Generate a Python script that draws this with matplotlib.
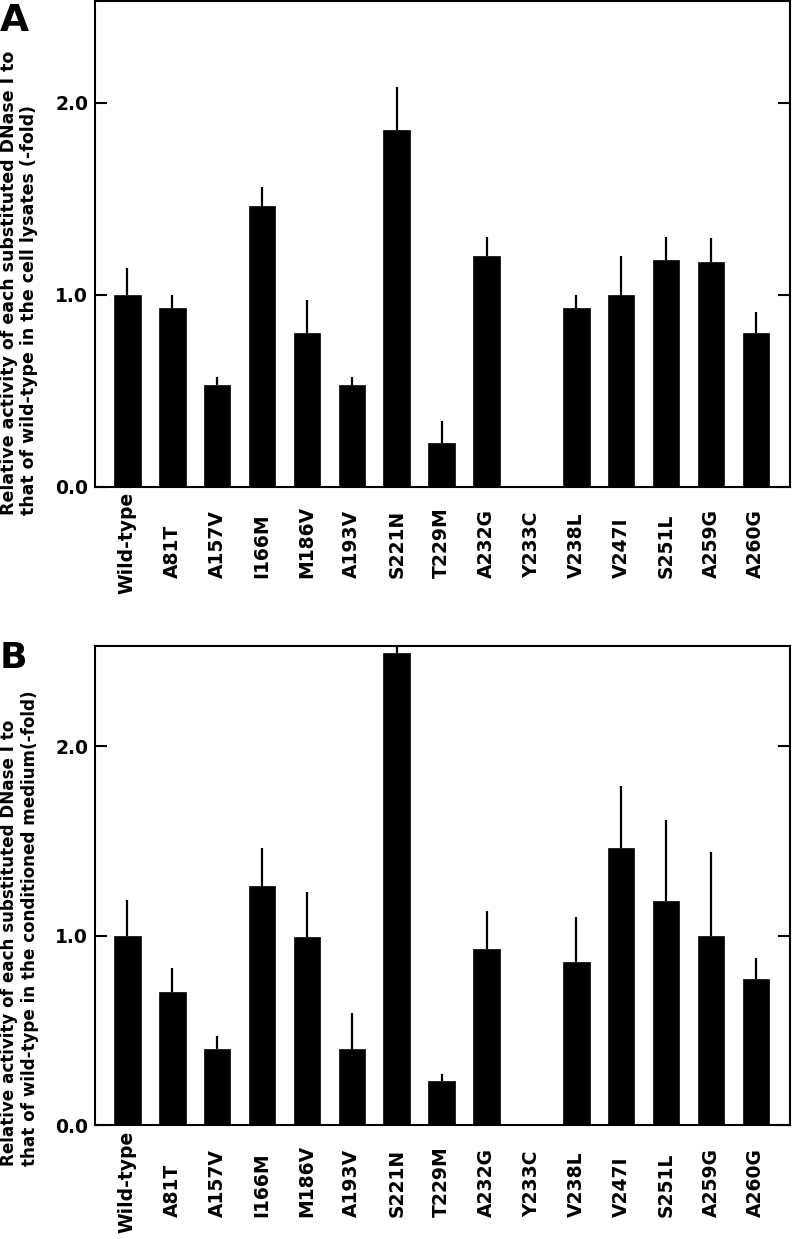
#!/usr/bin/env python3
"""Relative DNase I activity of substituted variants (cell lysates / conditioned medium)."""

import matplotlib

matplotlib.use("Agg")
import matplotlib.pyplot as plt
import matplotlib.transforms as mtransforms
import numpy as np

VARIANTS = [
    "Wild-type", "A81T", "A157V", "I166M", "M186V", "A193V", "S221N", "T229M",
    "A232G", "Y233C", "V238L", "V247I", "S251L", "A259G", "A260G",
]

# panel A: cell lysates
LYSATE_MEAN = [1.00, 0.93, 0.53, 1.46, 0.80, 0.53, 1.86, 0.23, 1.20, 0.0, 0.93, 1.00, 1.18, 1.17, 0.80]
LYSATE_ERR = [0.14, 0.07, 0.04, 0.10, 0.17, 0.04, 0.22, 0.11, 0.10, 0.0, 0.07, 0.20, 0.12, 0.125, 0.11]

# panel B: conditioned medium
MEDIUM_MEAN = [1.00, 0.70, 0.40, 1.26, 0.99, 0.40, 2.49, 0.23, 0.93, 0.0, 0.86, 1.46, 1.18, 1.00, 0.77]
MEDIUM_ERR = [0.19, 0.13, 0.07, 0.20, 0.24, 0.19, 0.10, 0.04, 0.20, 0.0, 0.24, 0.33, 0.43, 0.44, 0.11]

YTICKS = [0.0, 1.0, 2.0]

LABEL_A = "Relative activity of each substituted DNase I to\nthat of wild-type in the cell lysates (-fold)"
LABEL_B = "Relative activity of each substituted DNase I to\nthat of wild-type in the conditioned medium(-fold)"

FONT = "DejaVu Sans"


def draw_panel(fig, ax, mean, err):
    x = np.arange(len(VARIANTS))
    mean = np.asarray(mean)
    err = np.asarray(err)

    ax.bar(x, mean, width=0.59, color="black", edgecolor="black", linewidth=0.5, zorder=2)
    ax.vlines(x, mean, mean + err, colors="black", linewidth=1.6, zorder=1, clip_on=True)

    ax.set_xlim(-0.72, len(VARIANTS) - 1 + 0.76)
    ax.set_ylim(0, 2.53)
    ax.set_xticks([])
    ax.set_yticks(YTICKS)
    ax.set_yticklabels([f"{v:.1f}" for v in YTICKS], fontsize=13.5, fontweight="bold", family=FONT)
    ax.tick_params(axis="y", direction="in", length=8.5, width=1.5, right=True, pad=5)
    for sp in ax.spines.values():
        sp.set_linewidth(1.5)

    # rotated variant names below the axis; long wild-type label hangs from the axis
    tr_base = ax.get_xaxis_transform()
    tr_low = mtransforms.offset_copy(tr_base, fig=fig, y=-66, units="points")
    tr_top = mtransforms.offset_copy(tr_base, fig=fig, y=-4, units="points")
    for i, name in enumerate(VARIANTS):
        if i == 0:
            ax.text(i, 0, name, transform=tr_top, rotation=90, ha="center", va="top",
                    fontsize=13.5, fontweight="bold", family=FONT)
        else:
            ax.text(i, 0, name, transform=tr_low, rotation=90, ha="center", va="bottom",
                    fontsize=13.5, fontweight="bold", family=FONT)


def main():
    fig = plt.figure(figsize=(7.92, 12.39), dpi=100)
    ax_a = fig.add_axes([0.120, 0.6072, 0.8775, 0.3920])
    ax_b = fig.add_axes([0.120, 0.0920, 0.8775, 0.3869])

    draw_panel(fig, ax_a, LYSATE_MEAN, LYSATE_ERR)
    draw_panel(fig, ax_b, MEDIUM_MEAN, MEDIUM_ERR)

    fig.text(0.0, 1 - 515 / 1239, LABEL_A, rotation=90, ha="left", va="bottom",
             multialignment="left", fontsize=12.5, fontweight="bold", family=FONT, linespacing=1.15)
    fig.text(0.0, 1 - 1166 / 1239, LABEL_B, rotation=90, ha="left", va="bottom",
             multialignment="left", fontsize=12.1, fontweight="bold", family=FONT, linespacing=1.2)

    fig.text(0.0, 1 - 3 / 1239, "A", ha="left", va="top", fontsize=27, fontweight="bold", family=FONT)
    fig.text(0.0, 1 - 641 / 1239, "B", ha="left", va="top", fontsize=26, fontweight="bold", family=FONT)

    fig.savefig("out.png", dpi=100)
    plt.close(fig)


if __name__ == "__main__":
    main()
